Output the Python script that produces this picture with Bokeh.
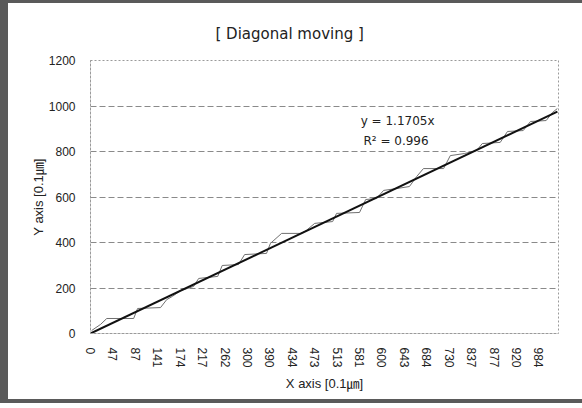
from bokeh.plotting import figure
from bokeh.models import FixedTicker, Label
from bokeh.embed import file_html
from bokeh.resources import INLINE

# ---- data ----
x_labels = ["0", "47", "87", "141", "174", "217", "262", "300", "390", "434",
            "473", "513", "581", "600", "643", "684", "730", "837", "877", "920", "984"]
label_step = 40          # categories between two shown labels
n_categories = 835

meas_x = [2, 18, 29, 77, 84, 125, 136, 146, 161, 173, 184, 193, 227, 235, 264, 275,
          314, 321, 341, 375, 385, 400, 432, 439, 480, 491, 510, 523, 546, 569, 582,
          594, 630, 642, 667, 689, 699, 731, 744, 772, 785, 813, 824, 833]
meas_y = [13, 40, 66, 66, 110, 114, 149, 163, 189, 198, 207, 242, 251, 299, 303, 347,
          352, 396, 440, 440, 453, 484, 492, 528, 532, 589, 593, 629, 637, 646, 690,
          725, 725, 782, 791, 804, 835, 840, 888, 892, 932, 936, 971, 989]

slope = 1.1705
r2 = 0.996
trend_x = [0, 833]
trend_y = [slope * v for v in trend_x]

y_ticks = [0, 200, 400, 600, 800, 1000, 1200]

FONT = "Liberation Sans, Noto Sans CJK KR"
WIDE = "DejaVu Sans, Noto Sans CJK KR"

p = figure(width=582, height=403, output_backend="svg", toolbar_location=None,
           x_range=(0, n_categories), y_range=(0, 1200),
           min_border_left=90, min_border_right=24, min_border_top=60, min_border_bottom=70,
           title="[ Diagonal moving ]")
p.border_fill_color = None
p.background_fill_color = None
p.styles = {"background-color": "white",
            "box-shadow": "inset 8px 0 0 #5a5a5a, inset 0 3px 0 #5a5a5a, inset 0 -4px 0 #5a5a5a"}

p.title.align = "left"
p.title.offset = 125
p.title.standoff = 36
p.title.text_font = WIDE
p.title.text_font_size = "15px"
p.title.text_font_style = "normal"
p.title.text_color = "#222222"

p.outline_line_color = "#9a9a9a"
p.outline_line_dash = "2 2"

# grid
p.xgrid.visible = False
p.ygrid.ticker = FixedTicker(ticks=y_ticks)
p.ygrid.grid_line_color = "#8a8a8a"
p.ygrid.grid_line_dash = "6 3"

# axes
p.yaxis.ticker = FixedTicker(ticks=y_ticks)
p.xaxis.ticker = FixedTicker(ticks=[i * label_step for i in range(len(x_labels))])
p.xaxis.major_label_overrides = {i * label_step: lab for i, lab in enumerate(x_labels)}
p.xaxis.major_label_orientation = "vertical"

for ax in (p.xaxis[0], p.yaxis[0]):
    ax.axis_line_color = "#9a9a9a"
    ax.axis_line_dash = "2 2"
    ax.major_tick_line_color = None
    ax.minor_tick_line_color = None
    ax.major_label_text_font = FONT
    ax.major_label_text_font_size = "12px"
    ax.major_label_text_color = "#222222"
    ax.axis_label_text_font = FONT
    ax.axis_label_text_font_size = "13px"
    ax.axis_label_text_font_style = "normal"
    ax.axis_label_text_color = "#222222"

p.xaxis.major_label_standoff = 8
p.yaxis.major_label_standoff = 9
p.xaxis.axis_label = "X axis [0.1㎛]"
p.yaxis.axis_label = "Y axis [0.1㎛]"
p.xaxis.axis_label_standoff = 5
p.yaxis.axis_label_standoff = 0

# series
p.line(meas_x, meas_y, line_color="#707070", line_width=1)
p.line(trend_x, trend_y, line_color="#111111", line_width=2)

# equation text
p.add_layout(Label(x=482, y=932, text=f"y = {slope}x", text_font=WIDE,
                   text_font_size="12px", text_color="#222222", text_baseline="middle"))
p.add_layout(Label(x=487, y=844, text=f"R² = {r2}", text_font=WIDE,
                   text_font_size="12px", text_color="#222222", text_baseline="middle"))

open("out.html", "w").write(file_html(p, INLINE))
